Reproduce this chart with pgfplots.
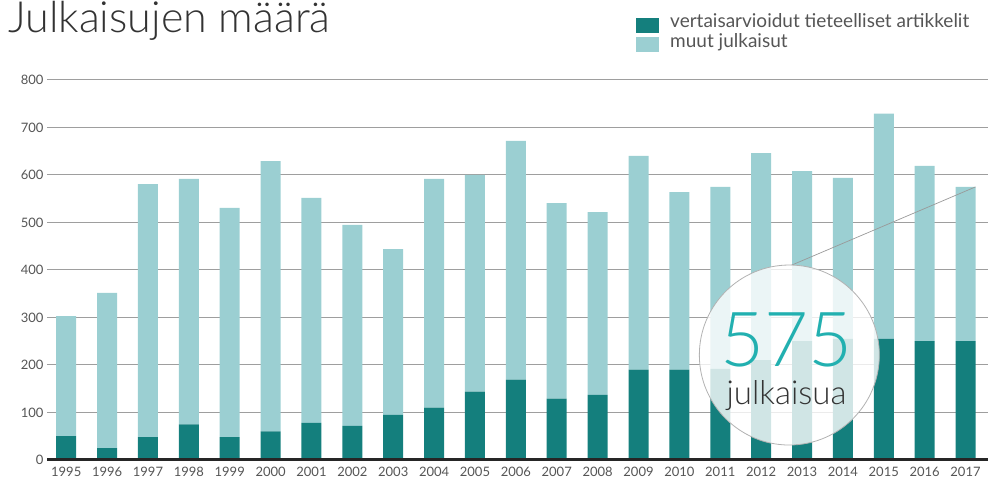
\documentclass[border=0pt]{standalone}
\usepackage{pgfplots}
\usepackage{pgfplotstable}
\pgfplotsset{compat=1.18}
\usepackage{fontspec}
\setmainfont{Lato}
\newfontfamily\lightfont{Lato}[UprightFont={* Light}]

\definecolor{tummat}{HTML}{147F7D}
\definecolor{vaaleat}{HTML}{9BCFD2}
\definecolor{tekstit}{HTML}{555555}
\definecolor{isoluku}{HTML}{22B0B0}

% i, vuosi, vertaisarvioidut, muut
\pgfplotstableread{
i year art muut
0 1995 50 253
1 1996 25 327
2 1997 48 533
3 1998 75 517
4 1999 48 483
5 2000 60 569
6 2001 78 474
7 2002 72 423
8 2003 95 349
9 2004 110 482
10 2005 144 456
11 2006 169 503
12 2007 129 412
13 2008 137 385
14 2009 190 450
15 2010 190 374
16 2011 192 383
17 2012 210 436
18 2013 250 358
19 2014 255 339
20 2015 255 474
21 2016 250 369
22 2017 250 325
}\julkaisut

\begin{document}
\begin{tikzpicture}[x=1pt,y=1pt]
\path[use as bounding box] (0,0) rectangle (1002,486);
\begin{axis}[
    at={(47pt,26pt)}, anchor=south west,
    scale only axis, width=941pt, height=380pt,
    ybar stacked, bar width=20pt,
    xmin=-0.47, xmax=22.55, ymin=0, ymax=800,
    xtick=data,
    xticklabels={1995,1996,1997,1998,1999,2000,2001,2002,2003,2004,2005,2006,2007,2008,2009,2010,2011,2012,2013,2014,2015,2016,2017},
    ytick={0,100,...,800},
    ymajorgrids, grid style={line width=1pt, black!38},
    axis line style={draw=none}, tick style={draw=none},
    /pgf/number format/assume math mode=true,
    ticklabel style={font=\fontsize{13}{15}\selectfont, text=tekstit},
    xticklabel style={yshift=-4pt},
    clip=false,
]
\addplot[fill=tummat, draw=none] table[x=i, y=art] {\julkaisut};
\addplot[fill=vaaleat, draw=none] table[x=i, y=muut] {\julkaisut};
\coordinate (pohjaA) at (rel axis cs:0,0);
\coordinate (pohjaB) at (rel axis cs:1,0);
\coordinate (viivaA) at (axis cs:17.74,410);
\coordinate (viivaB) at (axis cs:22.245,575);
\coordinate (keski) at (axis cs:17.69,221);
\coordinate (luku) at (axis cs:17.62,197);
\coordinate (sana) at (axis cs:17.62,117);
\end{axis}
\draw[line width=3pt, black!85] (pohjaA) -- (pohjaB);
% kohokohta 2017
\draw[black!40, line width=0.7pt] (viivaA) -- (viivaB);
\fill[white, opacity=0.8] (keski) circle[radius=90pt];
\draw[black!30, line width=0.8pt] (keski) circle[radius=90pt];
\node[anchor=base, text=isoluku, font=\lightfont\fontsize{76}{76}\selectfont, inner sep=0pt, text depth=0pt] at (luku) {575};
\node[anchor=base, text=black!80, font=\lightfont\fontsize{33}{33}\selectfont, inner sep=0pt, text height=22pt] at (sana) {julkaisua};
% otsikko
\node[anchor=base west, inner sep=0pt, text=black!80, font=\lightfont\fontsize{43}{43}\selectfont] at (8,453) {Julkaisujen määrä};
% selite
\fill[tummat] (636,453) rectangle (659,468);
\fill[vaaleat] (636,434) rectangle (659,449);
\node[anchor=base west, inner sep=0pt, text=tekstit, font=\fontsize{19}{21}\selectfont] at (670,458) {vertaisarvioidut tieteelliset artikkelit};
\node[anchor=base west, inner sep=0pt, text=tekstit, font=\fontsize{19}{21}\selectfont] at (670,438) {muut julkaisut};
\end{tikzpicture}
\end{document}
